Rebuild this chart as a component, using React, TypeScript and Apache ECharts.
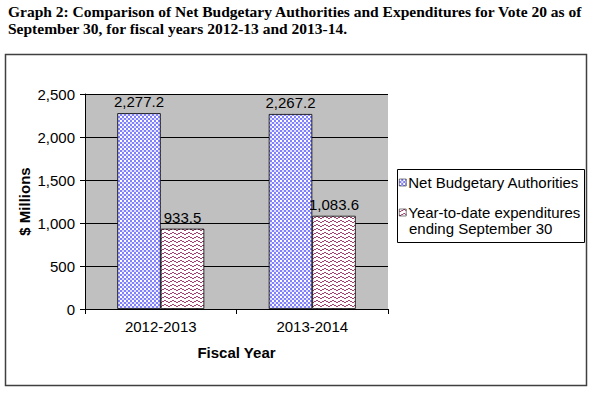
import React, { useEffect, useRef } from "react";
import * as echarts from "echarts";

const categories = ["2012-2013", "2013-2014"];
const seriesNames = ["Net Budgetary Authorities", "Year-to-date expenditures ending September 30"];
const netAuthorities = [2277.2, 2267.2];
const ytdExpenditures = [933.5, 1083.6];
const yTicks = [0, 500, 1000, 1500, 2000, 2500];

function makeBluePattern() {
  const c = document.createElement("canvas");
  c.width = 4;
  c.height = 4;
  const ctx = c.getContext("2d")!;
  ctx.fillStyle = "#8080ff";
  ctx.fillRect(0, 0, 4, 4);
  ctx.fillStyle = "#ffffff";
  ctx.fillRect(0, 0, 2, 2);
  ctx.fillStyle = "#e0e0ff";
  ctx.fillRect(2, 2, 2, 2);
  return c.toDataURL();
}

function makeRedPattern() {
  const c = document.createElement("canvas");
  c.width = 8;
  c.height = 4;
  const ctx = c.getContext("2d")!;
  ctx.fillStyle = "#ffffff";
  ctx.fillRect(0, 0, 8, 4);
  ctx.fillStyle = "#a0406e";
  const ys = [2, 2, 1, 1, 0, 0, 1, 1];
  for (let x = 0; x < 8; x++) ctx.fillRect(x, ys[x], 1, 1);
  return c.toDataURL();
}

const fmt = (v: number) =>
  v.toLocaleString("en-US", { minimumFractionDigits: 1, maximumFractionDigits: 1 });

export default function App() {
  const ref = useRef<HTMLDivElement>(null);
  useEffect(() => {
    if (!ref.current) return;
    const chart = echarts.init(ref.current, undefined, { renderer: "svg" });
    const blue = { image: makeBluePattern(), repeat: "repeat", imageWidth: 4, imageHeight: 4 } as any;
    const red = { image: makeRedPattern(), repeat: "repeat", imageWidth: 8, imageHeight: 4 } as any;
    const font = "Liberation Sans, Arial, sans-serif";
    chart.setOption({
      animation: false,
      backgroundColor: "#ffffff",
      textStyle: { fontFamily: font },
      graphic: [
        {
          type: "text",
          left: 8,
          top: 3,
          style: {
            text: "Graph 2: Comparison of Net Budgetary Authorities and Expenditures for Vote 20 as of\nSeptember 30, for fiscal years 2012-13 and 2013-14.",
            font: 'bold 15.5px "Liberation Serif", "Times New Roman", serif',
            fill: "#000",
            lineHeight: 17,
          },
        },
        {
          type: "rect",
          shape: { x: 5.5, y: 54.5, width: 581, height: 331 },
          style: { fill: "none", stroke: "#404040", lineWidth: 1.5 },
        },
        {
          type: "rect",
          shape: { x: 397.5, y: 169.5, width: 187, height: 73 },
          style: { fill: "#fff", stroke: "#000", lineWidth: 1 },
          z: 0,
        },
        {
          type: "text",
          left: 409,
          top: 221,
          style: { text: "ending September 30", font: "15px " + font, fill: "#000" },
          z: 10,
        },
      ],
      legend: [
        {
          data: [seriesNames[0]],
          orient: "vertical",
          left: 399,
          top: 175,
          padding: 0,
          icon: "rect",
          itemWidth: 7,
          itemHeight: 7,
          itemGap: 0,
          textStyle: { fontSize: 15, color: "#000", fontFamily: font, padding: [0, 0, 0, -3] },
          itemStyle: { borderColor: "#000", borderWidth: 0.5 },
          z: 10,
        },
        {
          data: [seriesNames[1]],
          orient: "vertical",
          left: 399,
          top: 205,
          padding: 0,
          icon: "rect",
          itemWidth: 7,
          itemHeight: 7,
          itemGap: 0,
          formatter: () => "Year-to-date expenditures",
          textStyle: { fontSize: 15, color: "#000", fontFamily: font, padding: [0, 0, 0, -3] },
          itemStyle: { borderColor: "#000", borderWidth: 0.5 },
          z: 10,
        },
      ],
      grid: {
        left: 85,
        top: 94,
        width: 303,
        height: 215,
        show: true,
        backgroundColor: "#c0c0c0",
        borderWidth: 0,
      },
      xAxis: {
        type: "category",
        data: categories,
        name: "Fiscal Year",
        nameLocation: "middle",
        nameGap: 36,
        nameMoveOverlap: false,
        nameTextStyle: { fontSize: 15, fontWeight: "bold", color: "#000", fontFamily: font },
        axisLine: { lineStyle: { color: "#000", width: 1 } },
        axisTick: { show: true, length: 5, lineStyle: { color: "#000" } },
        axisLabel: { fontSize: 15, color: "#000", margin: 10, fontFamily: font },
      },
      yAxis: {
        type: "value",
        min: 0,
        max: 2500,
        interval: 500,
        name: "$ Millions",
        nameLocation: "middle",
        nameGap: 53,
        nameMoveOverlap: false,
        nameTextStyle: { fontSize: 15, fontWeight: "bold", color: "#000", fontFamily: font },
        axisLine: { show: true, lineStyle: { color: "#000", width: 1 } },
        axisTick: { show: true, length: 5, lineStyle: { color: "#000" } },
        axisLabel: {
          fontSize: 15,
          color: "#000",
          margin: 10,
          fontFamily: font,
          formatter: (v: number) => (yTicks.includes(v) ? v.toLocaleString("en-US") : ""),
        },
        splitLine: { show: true, lineStyle: { color: "#000", width: 1 } },
      },
      series: [
        {
          name: seriesNames[0],
          type: "bar",
          data: netAuthorities,
          barWidth: "28.7%",
          barGap: "0%",
          itemStyle: { color: blue, borderColor: "#000", borderWidth: 0.8 },
          label: {
            show: true,
            position: "top",
            distance: 4,
            fontSize: 15,
            color: "#000",
            fontFamily: font,
            formatter: (p: any) => fmt(p.value),
          },
        },
        {
          name: seriesNames[1],
          type: "bar",
          data: ytdExpenditures,
          barWidth: "28.7%",
          barGap: "0%",
          itemStyle: { color: red, borderColor: "#000", borderWidth: 0.8 },
          label: {
            show: true,
            position: "top",
            distance: 4,
            fontSize: 15,
            color: "#000",
            fontFamily: font,
            formatter: (p: any) => fmt(p.value),
          },
        },
      ],
    });
    return () => chart.dispose();
  }, []);
  return (
    <div
      ref={ref}
      style={{ position: "absolute", left: 0, top: 0, width: 595, height: 395 }}
    />
  );
}
